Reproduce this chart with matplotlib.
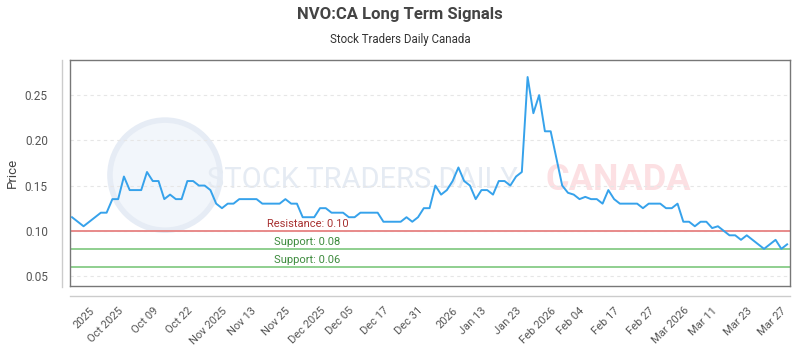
import matplotlib
matplotlib.use("Agg")
import matplotlib.pyplot as plt
from matplotlib.lines import Line2D
from matplotlib.patches import Ellipse

plt.rcParams["font.family"] = ["Roboto", "DejaVu Sans"]

# price series (one point per trading day)
prices = [
    0.115, 0.11, 0.105, 0.11, 0.115, 0.12, 0.12, 0.135, 0.135, 0.16,
    0.145, 0.145, 0.145, 0.165, 0.155, 0.155, 0.135, 0.14, 0.135, 0.135,
    0.155, 0.155, 0.15, 0.15, 0.145, 0.13, 0.125, 0.13, 0.13, 0.135,
    0.135, 0.135, 0.135, 0.13, 0.13, 0.13, 0.13, 0.135, 0.13, 0.13,
    0.115, 0.115,
    0.115, 0.125, 0.125, 0.12, 0.12, 0.12, 0.115, 0.115, 0.12, 0.12,
    0.12, 0.12, 0.11, 0.11, 0.11, 0.11, 0.115, 0.11, 0.115, 0.125,
    0.125, 0.15, 0.14, 0.145, 0.155, 0.17, 0.155, 0.15, 0.135, 0.145,
    0.145, 0.14, 0.155, 0.155, 0.15, 0.16, 0.165, 0.27, 0.23, 0.25,
    0.21, 0.21, 0.18, 0.15, 0.142, 0.14, 0.135, 0.1375, 0.135, 0.135,
    0.13, 0.145, 0.135, 0.13, 0.13, 0.13, 0.13, 0.125, 0.13, 0.13,
    0.13, 0.125, 0.125, 0.13, 0.11, 0.11, 0.105, 0.11, 0.11, 0.103,
    0.105, 0.10, 0.095, 0.095, 0.09, 0.095, 0.09, 0.085, 0.08, 0.085,
    0.09, 0.08, 0.085,
]

tick_labels = [
    "2025", "Oct 2025", "Oct 09", "Oct 22", "Nov 2025", "Nov 13", "Nov 25",
    "Dec 2025", "Dec 05", "Dec 17", "Dec 31", "2026", "Jan 13", "Jan 23",
    "Feb 2026", "Feb 04", "Feb 17", "Feb 27", "Mar 2026", "Mar 11",
    "Mar 23", "Mar 27",
]
tick_idx = [3, 8, 14, 20, 26, 31, 37, 43, 48, 54, 60, 66, 71, 77, 83, 88,
            94, 100, 106, 111, 117, 123]

resistance = [0.10]
supports = [0.08, 0.06]

fig = plt.figure(figsize=(8, 3.5), dpi=100)
ax = fig.add_axes([0.0875, 0.183, 0.9, 0.646])

x = list(range(len(prices)))

# watermark (logo circle + site name)
ax.add_patch(Ellipse((0.132, 0.49), 0.153, 0.487, transform=ax.transAxes,
                     facecolor="#f2f6fb", edgecolor="#e6ecf5", linewidth=4, zorder=0))
ax.text(0.19, 0.47, "STOCK TRADERS DAILY", transform=ax.transAxes, fontsize=21,
        color="#e5ebf3", va="center", ha="left", zorder=0)
ax.text(0.66, 0.47, "CANADA", transform=ax.transAxes, fontsize=26,
        fontweight="bold", color="#fce0e3", va="center", ha="left", zorder=0)

ax.plot(x, prices, color="#36a2eb", linewidth=1.4, zorder=3)

for r in resistance:
    ax.axhline(r, color="#e88a8a", linewidth=1.4, zorder=2)
    ax.text(0.33, r + 0.002, f"Resistance: {r:.2f}", transform=ax.get_yaxis_transform(),
            ha="center", va="bottom", fontsize=8, color="#a83232")
for s in supports:
    ax.axhline(s, color="#8fcf8f", linewidth=1.4, zorder=2)
    ax.text(0.33, s + 0.002, f"Support: {s:.2f}", transform=ax.get_yaxis_transform(),
            ha="center", va="bottom", fontsize=8, color="#3d8b3d")

ax.set_xlim(-0.35, len(prices) - 0.5)
ax.set_ylim(0.039, 0.289)
ax.set_yticks([0.05, 0.10, 0.15, 0.20, 0.25])
ax.set_yticklabels(["0.05", "0.10", "0.15", "0.20", "0.25"])
ax.grid(axis="y", color="#e6e6e6", linestyle=(0, (3, 3)), linewidth=0.8)
ax.set_axisbelow(True)

ax.set_xticks(tick_idx)
ax.set_xticklabels(tick_labels, rotation=45, ha="right", rotation_mode="anchor")
ax.tick_params(axis="x", length=0, pad=14, labelsize=8, labelcolor="#555555")
ax.tick_params(axis="y", length=0, pad=16, labelsize=8.5, labelcolor="#555555")

for sp in ax.spines.values():
    sp.set_color("#777777")
    sp.set_linewidth(1)

ax.set_ylabel("Price", fontsize=9.5, color="#444444", labelpad=4)

# light outer axis lines
fig.add_artist(Line2D([62 / 800, 62 / 800], [1 - 60 / 350, 1 - 287 / 350],
                      color="#cccccc", linewidth=1))
fig.add_artist(Line2D([70 / 800, 790 / 800], [1 - 296 / 350, 1 - 296 / 350],
                      color="#cccccc", linewidth=1))

fig.text(0.5, 1 - 15 / 350, "NVO:CA Long Term Signals", ha="center", va="center",
         fontsize=12, fontweight="bold", color="#444444")
fig.text(0.5, 1 - 40 / 350, "Stock Traders Daily Canada", ha="center", va="center",
         fontsize=8.3, color="#333333")

fig.savefig("out.png", dpi=100)
